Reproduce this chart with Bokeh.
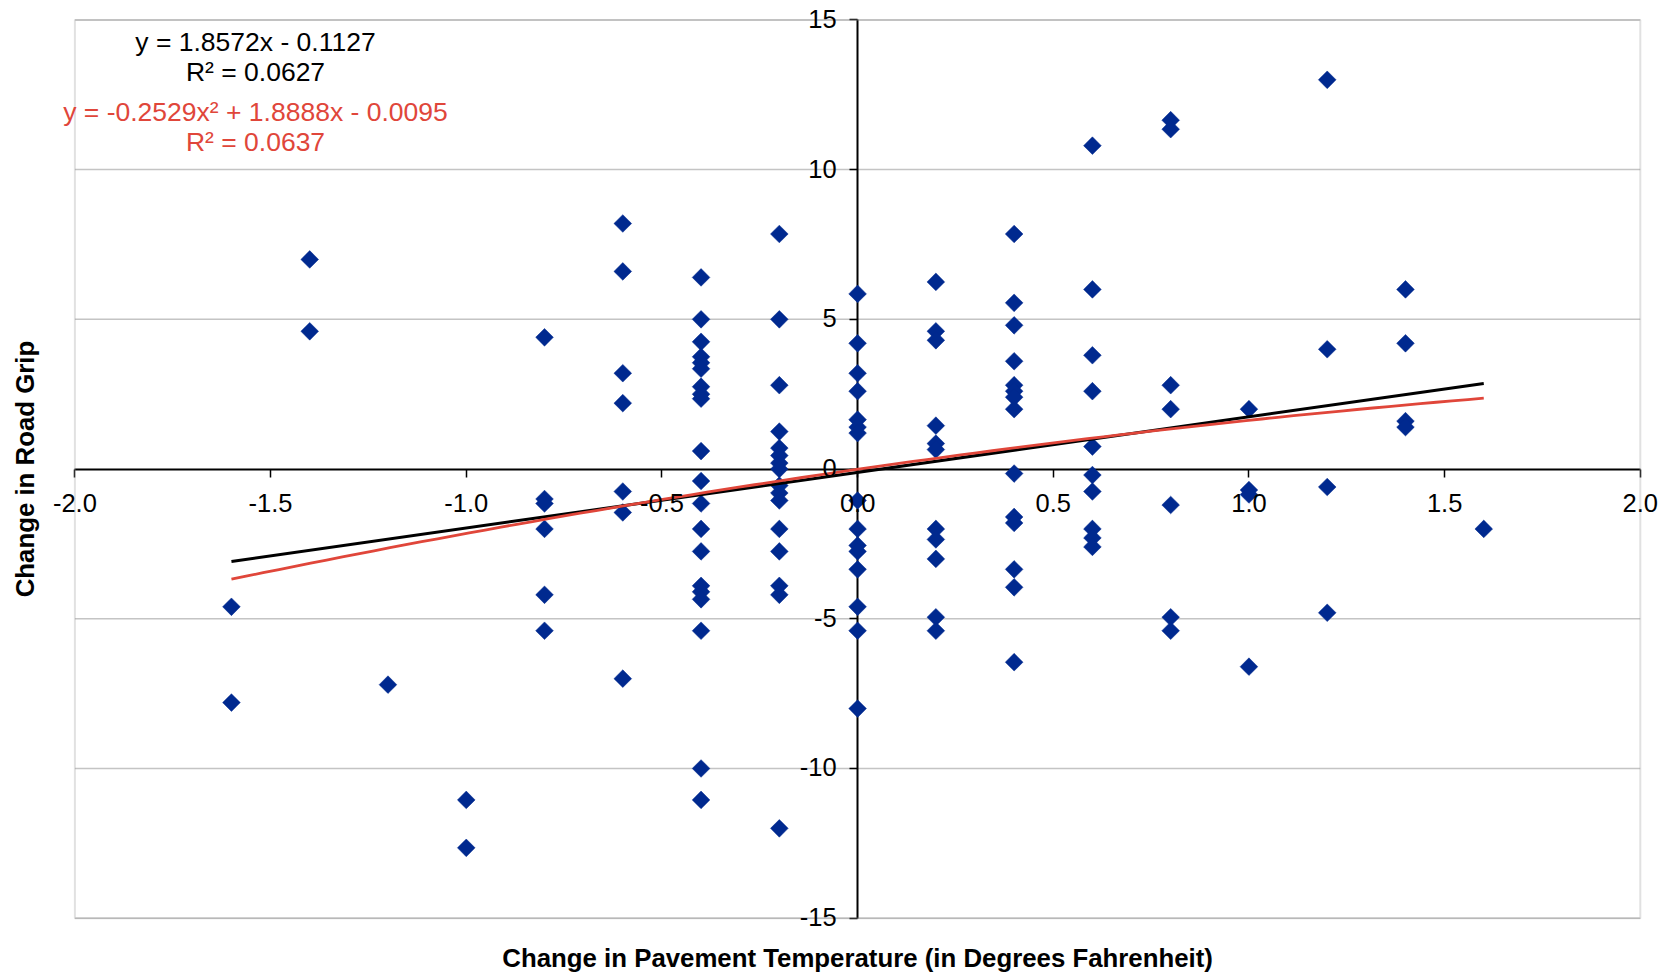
import numpy as np
from bokeh.plotting import figure
from bokeh.models import (FixedTicker, LabelSet, Label, ColumnDataSource,
                          BoxAnnotation, Range1d)
from bokeh.core.properties import value
from bokeh.embed import file_html
from bokeh.resources import INLINE

# ---------------- data ----------------
temp_change = (
    [-1.6] * 2 + [-1.4] * 2 + [-1.2] * 1 + [-1.0] * 2 + [-0.8] * 6 + [-0.6] * 7
    + [-0.4] * 20 + [-0.2] * 16 + [0.0] * 15 + [0.2] * 11 + [0.4] * 14
    + [0.6] * 10 + [0.8] * 7 + [1.0] * 4 + [1.2] * 4 + [1.4] * 4 + [1.6] * 1
)
grip_change = (
    [-4.6, -7.8]
    + [7.0, 4.6]
    + [-7.2]
    + [-11.05, -12.65]
    + [4.4, -1.0, -1.15, -2.0, -4.2, -5.4]
    + [8.2, 6.6, 3.2, 2.2, -0.75, -1.45, -7.0]
    + [6.4, 5.0, 4.25, 3.75, 3.55, 3.35, 2.75, 2.5, 2.35, 0.6, -0.4, -1.15,
       -2.0, -2.75, -3.9, -4.1, -4.35, -5.4, -10.0, -11.05]
    + [7.85, 5.0, 2.8, 1.25, 0.7, 0.45, 0.2, 0.0, -0.55, -0.8, -1.05, -2.0,
       -2.75, -3.9, -4.2, -12.0]
    + [5.85, 4.2, 3.2, 2.6, 1.65, 1.4, 1.2, -1.05, -2.0, -2.55, -2.75, -3.35,
       -4.6, -5.4, -8.0]
    + [6.25, 4.6, 4.3, 1.45, 0.85, 0.65, -2.0, -2.35, -3.0, -4.95, -5.4]
    + [7.85, 5.55, 4.8, 3.6, 2.8, 2.6, 2.4, 2.0, -0.15, -1.6, -1.8, -3.35,
       -3.95, -6.45]
    + [10.8, 6.0, 3.8, 2.6, 0.75, -0.2, -0.75, -2.0, -2.3, -2.6]
    + [11.65, 11.35, 2.8, 2.0, -1.2, -4.95, -5.4]
    + [2.0, -0.7, -0.85, -6.6]
    + [13.0, 4.0, -0.6, -4.8]
    + [6.0, 4.2, 1.6, 1.4]
    + [-2.0]
)

# trendline coefficients as printed on the chart
lin_coef = [1.8572, -0.1127]
poly_coef = [-0.2529, 1.8888, -0.0095]
lin_text = ["y = 1.8572x - 0.1127", "R\u00b2 = 0.0627"]
poly_text = ["y = -0.2529x\u00b2 + 1.8888x - 0.0095", "R\u00b2 = 0.0637"]

x_limits = (-2.0, 2.0)
y_limits = (-15, 15)
x_ticks = [-2.0, -1.5, -1.0, -0.5, 0.0, 0.5, 1.0, 1.5, 2.0]
x_tick_labels = ["-2.0", "-1.5", "-1.0", "-0.5", "0.0", "0.5", "1.0", "1.5", "2.0"]
y_ticks = [-15, -10, -5, 0, 5, 10, 15]
y_tick_labels = ["-15", "-10", "-5", "0", "5", "10", "15"]
y_grid = [-15, -10, -5, 5, 10, 15]

x_title = "Change in Pavement Temperature (in Degrees Fahrenheit)"
y_title = "Change in Road Grip"

# ---------------- layout (pixels on the 1672x972 canvas) ----------------
W, H = 1672, 972
AREA_LEFT, AREA_RIGHT = 74.4, 1639.8     # pixel of x = -2 and x = 2
AREA_TOP, AREA_BOTTOM = 19.4, 917.7      # pixel of y = 15 and y = -15
sx = (AREA_RIGHT - AREA_LEFT) / (x_limits[1] - x_limits[0])
sy = (AREA_BOTTOM - AREA_TOP) / (y_limits[1] - y_limits[0])
x_range = Range1d(x_limits[0] - AREA_LEFT / sx, x_limits[1] + (W - AREA_RIGHT) / sx)
y_range = Range1d(y_limits[0] - (H - AREA_BOTTOM) / sy, y_limits[1] + AREA_TOP / sy)


def px_to_x(px):
    return x_limits[0] + (px - AREA_LEFT) / sx


def px_to_y(py):
    return y_limits[1] - (py - AREA_TOP) / sy


FONT = "Liberation Sans"
BLUE = "#00298F"
RED = "#E0463A"

p = figure(width=W, height=H, x_range=x_range, y_range=y_range,
           output_backend="svg", toolbar_location=None,
           min_border_left=0, min_border_right=0,
           min_border_top=0, min_border_bottom=0)
p.background_fill_color = "white"
p.border_fill_color = "white"
p.outline_line_color = None
p.xgrid.visible = False
p.ygrid.visible = False

# horizontal gridlines limited to the plot area
p.segment(x0=x_limits[0], x1=x_limits[1], y0=y_grid, y1=y_grid,
          line_color="#c4c4c4", line_width=1.5, level="underlay")

# plot area border
p.add_layout(BoxAnnotation(left=x_limits[0], right=x_limits[1],
                           bottom=y_limits[0], top=y_limits[1],
                           fill_color=None, line_color="#9a9a9a", line_width=2))

# axes crossing at zero
for ax in (p.xaxis[0], p.yaxis[0]):
    ax.fixed_location = 0
    ax.axis_line_color = "black"
    ax.axis_line_width = 2
    ax.major_tick_line_color = "black"
    ax.major_tick_line_width = 1.5
    ax.major_tick_out = 8
    ax.major_tick_in = 0
    ax.minor_tick_line_color = None
    ax.major_label_text_color = None
    ax.level = "underlay"
p.xaxis[0].ticker = FixedTicker(ticks=x_ticks)
p.yaxis[0].ticker = FixedTicker(ticks=y_ticks)
p.xaxis[0].bounds = x_limits
p.yaxis[0].bounds = y_limits

# tick labels
xl_src = ColumnDataSource(dict(x=x_ticks, y=[0] * len(x_ticks), t=x_tick_labels))
p.add_layout(LabelSet(x="x", y="y", text="t", source=xl_src, y_offset=-34,
                      text_align="center", text_baseline="middle",
                      text_font=value(FONT), text_font_size="25.5px",
                      text_color="black"))
yl_src = ColumnDataSource(dict(x=[0] * len(y_ticks), y=y_ticks, t=y_tick_labels))
p.add_layout(LabelSet(x="x", y="y", text="t", source=yl_src, x_offset=-21, y_offset=1,
                      text_align="right", text_baseline="middle",
                      text_font=value(FONT), text_font_size="25.5px",
                      text_color="black"))

# points
p.scatter(temp_change, grip_change, marker="square", angle=np.pi / 4, size=12.5,
          fill_color=BLUE, line_color=BLUE, line_width=0.5)

# trend lines (over the points, as in the original)
xmin, xmax = min(temp_change), max(temp_change)
lx = np.array([xmin, xmax])
p.line(lx, np.polyval(lin_coef, lx), line_color="black", line_width=3)
px = np.linspace(xmin, xmax, 80)
p.line(px, np.polyval(poly_coef, px), line_color=RED, line_width=2.8)

# equation labels
eq_x = px_to_x(255)
for txt, py, col in [(lin_text[0], 41.5, "black"), (lin_text[1], 71.5, "black"),
                     (poly_text[0], 111.5, RED), (poly_text[1], 141.5, RED)]:
    p.add_layout(Label(x=eq_x, y=px_to_y(py), text=txt, text_align="center",
                       text_baseline="middle", text_font=FONT,
                       text_font_size="26.5px", text_color=col))

# axis titles
p.add_layout(Label(x=(x_limits[0] + x_limits[1]) / 2, y=px_to_y(957), text=x_title,
                   text_align="center", text_baseline="middle", text_font=FONT,
                   text_font_size="25.8px", text_font_style="bold",
                   text_color="black"))
p.add_layout(Label(x=px_to_x(24), y=(y_limits[0] + y_limits[1]) / 2, text=y_title,
                   angle=np.pi / 2, text_align="center", text_baseline="middle",
                   text_font=FONT, text_font_size="25.8px", text_font_style="bold",
                   text_color="black"))

open("out.html", "w").write(file_html(p, INLINE))
